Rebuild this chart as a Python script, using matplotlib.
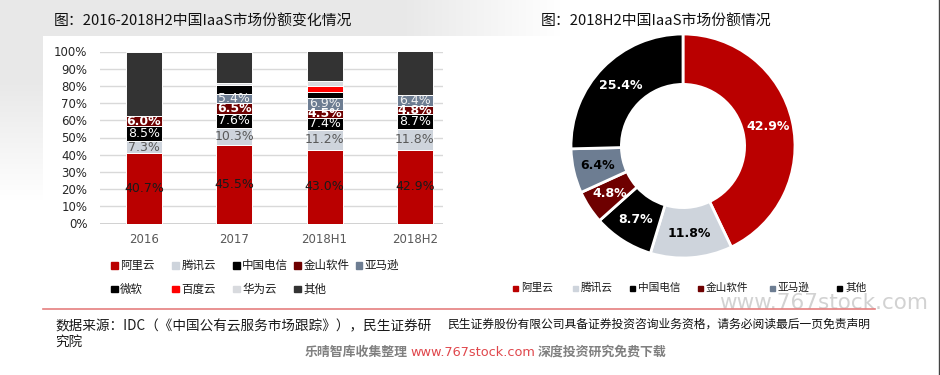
import numpy as np
import matplotlib.pyplot as plt
from matplotlib.patches import Rectangle
from matplotlib.lines import Line2D

plt.rcParams['font.family'] = ['Noto Sans CJK SC', 'DejaVu Sans']

# ---- data: left stacked bars (market share, %) ----
categories = ["2016", "2017", "2018H1", "2018H2"]
alibaba = [40.7, 45.5, 43.0, 42.9]
tencent = [7.3, 10.3, 11.2, 11.8]
telecom = [8.5, 7.6, 7.4, 8.7]
kingsoft = [6.0, 6.5, 4.5, 4.8]
amazon = [0.0, 5.4, 6.9, 6.4]
microsoft = [0.0, 5.1, 3.4, 0.0]
baidu = [0.0, 0.0, 3.4, 0.0]
huawei = [0.0, 1.2, 2.8, 0.0]
others = [37.5, 18.4, 17.4, 25.4]
bar_names = ["阿里云", "腾讯云", "中国电信", "金山软件", "亚马逊", "微软", "百度云", "华为云", "其他"]

# ---- data: right donut (2018H2, %) ----
pie_names = ["阿里云", "腾讯云", "中国电信", "金山软件", "亚马逊", "其他"]
pie_values = [42.9, 11.8, 8.7, 4.8, 6.4, 25.4]

RED, LIGHT, BLACK, MAROON, SLATE = "#BA0000", "#CED4DC", "#000000", "#6E0000", "#6D7D92"
bar_colors = [RED, LIGHT, BLACK, MAROON, SLATE, BLACK, "#FF0000", "#D8DADE", "#333333"]
label_colors = ["#1A1A1A", "#595959", "white", "white", "#F2F2F2"]
label_weights = ["normal", "normal", "normal", "bold", "normal"]
pie_colors = [RED, LIGHT, BLACK, MAROON, SLATE, BLACK]
pie_text_colors = ["white", "black", "white", "white", "black", "white"]

W, H = 940, 375
fig = plt.figure(figsize=(W / 100, H / 100), dpi=100)


def fx(x):
    return x / W


def fy(y):
    return 1 - y / H


# background: light gray shading top-left
bg = fig.add_axes([0, 0, 1, 1], zorder=-10)
yy, xx = np.mgrid[0:H, 0:W]
d = np.zeros((H, W))
top = yy < 36
d[top] = np.clip((560 - xx[top]) / 160, 0, 1) * 0.09
left = (yy >= 36) & (xx < 43)
d[left] = np.clip((200 - yy[left]) / 120, 0, 1) * 0.09
img = np.dstack([1 - d] * 3)
bg.imshow(img, aspect="auto", extent=[0, 1, 0, 1])
bg.axis("off")

# ---- stacked bar chart ----
ax = fig.add_axes([fx(100), fy(223.5), fx(443) - fx(100), fy(51.5) - fy(223.5)])
series = [alibaba, tencent, telecom, kingsoft, amazon, microsoft, baidu, huawei, others]
x = np.arange(len(categories))
bottom = np.zeros(len(categories))
for i, vals in enumerate(series):
    vals = np.array(vals)
    ax.bar(x, vals, 0.4, bottom=bottom, color=bar_colors[i], edgecolor="white",
           linewidth=0.7, zorder=3)
    if i < 5:
        for j, v in enumerate(vals):
            if v > 0:
                ax.text(x[j], bottom[j] + v / 2, f"{v:.1f}%", ha="center", va="center",
                        fontsize=9, color=label_colors[i], fontweight=label_weights[i],
                        family="DejaVu Sans", zorder=4)
    bottom += vals

ax.set_xlim(-0.486, 3.311)
ax.set_ylim(0, 100)
ax.set_yticks(np.arange(0, 101, 10))
ax.set_yticklabels([f"{v}%" for v in range(0, 101, 10)], family="DejaVu Sans",
                   fontsize=8.5, color="#262626")
ax.set_xticks(x)
ax.set_xticklabels(categories, family="DejaVu Sans", fontsize=8.5, color="#595959")
ax.tick_params(axis="y", length=0, pad=9)
ax.tick_params(axis="x", length=0, pad=7)
for s in ax.spines.values():
    s.set_visible(False)
ax.grid(axis="y", color="#D9D9D9", linewidth=1, zorder=0)
ax.axhline(0, color="#D0D0D0", linewidth=1.4, zorder=1)
ax.set_facecolor("none")

# bar legend (two rows)
leg_rows = [(265.7, [111, 172.3, 233.3, 294.3, 355.7]), (289, [111, 172.3, 233.3, 294.3])]
k = 0
for ly, xs in leg_rows:
    for mx in xs:
        fig.patches.append(Rectangle((fx(mx), fy(ly + 3.2)), 6.5 / W, 6.5 / H,
                                     transform=fig.transFigure, color=bar_colors[k]))
        fig.text(fx(mx + 9), fy(ly), bar_names[k], fontsize=8.3, va="center", ha="left",
                 color="#1A1A1A")
        k += 1

# ---- donut ----
R = 112
cx, cy = 683, 146
pax = fig.add_axes([fx(cx - R), fy(cy + R), 2 * R / W, 2 * R / H])
wedges, _, autotexts = pax.pie(pie_values, colors=pie_colors, startangle=90, counterclock=False,
                               radius=1, autopct="%.1f%%", pctdistance=0.78,
                               wedgeprops=dict(width=0.45, edgecolor="white", linewidth=2),
                               textprops=dict(fontsize=9, fontweight="bold", family="DejaVu Sans"))
for t, c in zip(autotexts, pie_text_colors):
    t.set_color(c)
pax.set_xlim(-1, 1)
pax.set_ylim(-1, 1)
pax.set_aspect("auto")
pax.axis("off")

pie_leg_x = [515, 575, 632, 700, 772, 839]
for name, c, mx in zip(pie_names, pie_colors, pie_leg_x):
    fig.patches.append(Rectangle((fx(mx - 2), fy(288 + 2.5)), 5 / W, 5 / H,
                                 transform=fig.transFigure, color=c))
    fig.text(fx(mx + 6), fy(288), name, fontsize=7.7, va="center", ha="left", color="#1A1A1A")

# ---- titles ----
fig.text(fx(54), fy(22), "图：2016-2018H2中国IaaS市场份额变化情况", fontsize=10.7,
         va="center", ha="left", color="#111111")
fig.text(fx(541), fy(22), "图：2018H2中国IaaS市场份额情况", fontsize=10.7,
         va="center", ha="left", color="#111111")

# ---- footer ----
fig.lines.append(Line2D([fx(43), fx(875)], [fy(309), fy(309)], transform=fig.transFigure,
                        color="#E57F7F", linewidth=1.2))
fig.lines.append(Line2D([fx(939), fx(939)], [0, 1], transform=fig.transFigure,
                        color="#444444", linewidth=1))
fig.text(fx(719), fy(303), "www.767stock.com", fontsize=15.5, family="DejaVu Sans",
         color="#D2D2D2", va="center", ha="left", zorder=-1)
fig.text(fx(55), fy(326), "数据来源：IDC（《中国公有云服务市场跟踪》），民生证券研",
         fontsize=9.8, va="center", ha="left", color="#1A1A1A")
fig.text(fx(55), fy(342), "究院", fontsize=9.8, va="center", ha="left", color="#1A1A1A")
fig.text(fx(447), fy(324), "民生证券股份有限公司具备证券投资咨询业务资格，请务必阅读最后一页免责声明",
         fontsize=8.5, va="center", ha="left", color="#111111")
fig.text(fx(305), fy(352), "乐晴智库收集整理", fontsize=9.3, va="center", ha="left",
         color="#808080", fontweight="bold")
fig.text(fx(410), fy(352), "www.767stock.com", fontsize=9.3, va="center", ha="left",
         color="#E0474C", family="DejaVu Sans")
fig.text(fx(538), fy(352), "深度投资研究免费下载", fontsize=9.3, va="center", ha="left",
         color="#808080", fontweight="bold")

fig.savefig("out.png", dpi=100)
